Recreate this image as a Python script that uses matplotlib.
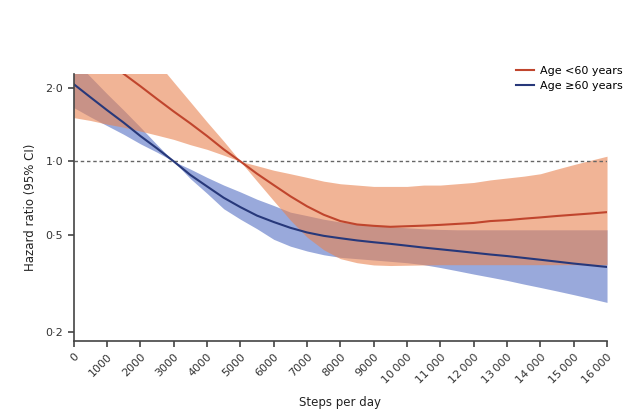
import matplotlib
matplotlib.use("Agg")
import matplotlib.pyplot as plt
from matplotlib.ticker import FixedLocator, NullLocator

# steps per day grid (every 500 steps)
steps = list(range(0, 16001, 500))

# Age <60 years: hazard ratio and 95% CI
young_hr = [3.24, 2.88, 2.56, 2.28, 2.03, 1.80, 1.60, 1.43, 1.27, 1.12, 1.00,
            0.89, 0.80, 0.72, 0.655, 0.605, 0.57, 0.552, 0.545, 0.54, 0.543,
            0.546, 0.55, 0.555, 0.56, 0.57, 0.575, 0.583, 0.59, 0.598, 0.605,
            0.612, 0.62]
young_hi = [6.5, 5.6, 4.8, 4.1, 3.5, 2.55, 2.11, 1.75, 1.45, 1.21, 1.00,
            0.96, 0.92, 0.89, 0.86, 0.83, 0.81, 0.80, 0.79, 0.79, 0.79,
            0.80, 0.80, 0.81, 0.82, 0.84, 0.855, 0.87, 0.89, 0.93, 0.97,
            1.01, 1.05]
young_lo = [1.51, 1.47, 1.42, 1.38, 1.33, 1.28, 1.23, 1.17, 1.12, 1.06, 1.00,
            0.83, 0.69, 0.575, 0.49, 0.435, 0.40, 0.385, 0.377, 0.375, 0.376,
            0.377, 0.378, 0.378, 0.378, 0.378, 0.378, 0.378, 0.378, 0.378, 0.378,
            0.378, 0.378]

# Age >=60 years: hazard ratio and 95% CI
old_hr = [2.07, 1.83, 1.62, 1.44, 1.27, 1.13, 1.00, 0.88, 0.79, 0.71, 0.65,
          0.60, 0.565, 0.535, 0.512, 0.496, 0.485, 0.475, 0.467, 0.46, 0.452,
          0.444, 0.437, 0.43, 0.423, 0.416, 0.41, 0.403, 0.396, 0.389, 0.382,
          0.376, 0.37]
old_hi = [2.61, 2.22, 1.89, 1.62, 1.38, 1.17, 1.00, 0.93, 0.86, 0.80, 0.75,
          0.70, 0.66, 0.62, 0.60, 0.58, 0.565, 0.555, 0.547, 0.54, 0.535,
          0.53, 0.527, 0.525, 0.525, 0.525, 0.525, 0.525, 0.525, 0.525, 0.525,
          0.525, 0.525]
old_lo = [1.66, 1.52, 1.40, 1.29, 1.18, 1.09, 1.00, 0.85, 0.74, 0.64, 0.58,
          0.53, 0.48, 0.45, 0.43, 0.415, 0.405, 0.40, 0.395, 0.39, 0.385,
          0.378, 0.368, 0.357, 0.346, 0.336, 0.326, 0.315, 0.305, 0.295, 0.285,
          0.275, 0.265]

xticks = list(range(0, 16001, 1000))
xticklabels = [f"{t:,}".replace(",", "\u2009") if t >= 10000 else str(t) for t in xticks]
yticks = [0.2, 0.5, 1.0, 2.0]
yticklabels = ["0\u00b72", "0\u00b75", "1\u00b70", "2\u00b70"]

red_line = "#c0452d"
red_fill = "#e98350"
blue_line = "#27387a"
blue_fill = "#5570c4"
axis_col = "#444444"

fig = plt.figure(figsize=(6.41, 4.15), dpi=100)
ax = fig.add_axes([0.115, 0.178, 0.832, 0.644])

ax.fill_between(steps, old_lo, old_hi, color=blue_fill, alpha=0.6, lw=0)
ax.fill_between(steps, young_lo, young_hi, color=red_fill, alpha=0.6, lw=0)
ax.axhline(1.0, color="#666666", lw=1, ls=(0, (2.5, 2)))
ax.plot(steps, young_hr, color=red_line, lw=1.5, label="Age <60 years")
ax.plot(steps, old_hr, color=blue_line, lw=1.5, label="Age \u226560 years")

ax.set_yscale("log")
ax.set_xlim(0, 16000)
ax.set_ylim(0.184, 2.28)
ax.yaxis.set_major_locator(FixedLocator(yticks))
ax.yaxis.set_minor_locator(NullLocator())
ax.set_yticklabels(yticklabels)
ax.set_xticks(xticks)
ax.set_xticklabels(xticklabels, rotation=45, ha="right", va="top",
                   rotation_mode="anchor")

for side in ["top", "right"]:
    ax.spines[side].set_visible(False)
for side in ["left", "bottom"]:
    ax.spines[side].set_color(axis_col)
    ax.spines[side].set_linewidth(1.2)
ax.tick_params(colors=axis_col, labelcolor="#333333", labelsize=8,
               length=4, width=1.2)

ax.set_xlabel("Steps per day", fontsize=8.5, color="#222222", labelpad=8)
ax.set_ylabel("Hazard ratio (95% CI)", fontsize=8.5, color="#222222", labelpad=6)

fig.legend(loc="upper left", bbox_to_anchor=(0.79, 0.865), frameon=False,
           fontsize=8, handlelength=1.6, handletextpad=0.5, labelspacing=0.45)

fig.savefig("out.png", dpi=100)
